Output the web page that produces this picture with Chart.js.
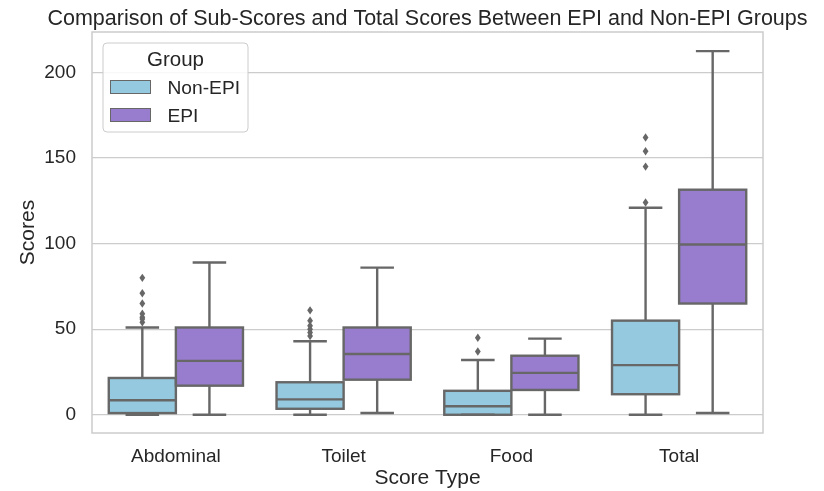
<!DOCTYPE html>
<html>
<head>
<meta charset="utf-8">
<script src="https://cdn.jsdelivr.net/npm/chart.js@4.4.1/dist/chart.umd.min.js"></script>
<style>
  html, body { margin: 0; padding: 0; background: #ffffff; }
  canvas { display: block; }
</style>
</head>
<body>
<canvas id="chart" width="824" height="491"></canvas>
<script>
// Score categories and tick values
const categories = ['Abdominal', 'Toilet', 'Food', 'Total'];
const yTicks = [0, 50, 100, 150, 200];
const chartTitle = 'Comparison of Sub-Scores and Total Scores Between EPI and Non-EPI Groups';

// Non-EPI box statistics
const nonEpiLow = [0, 0, 0, 0];
const nonEpiQ1 = [1, 3.5, 0, 12];
const nonEpiMedian = [8.5, 9, 5, 29];
const nonEpiQ3 = [21.5, 19, 14, 55];
const nonEpiHigh = [51, 43, 32, 121];
const nonEpiOutliers = [
  [54, 56, 57, 59, 65, 71, 80],
  [46, 48, 50, 52, 55, 61],
  [37, 45],
  [124, 145, 154, 162]
];

// EPI box statistics
const epiLow = [0, 1, 0, 1];
const epiQ1 = [17, 20.5, 14.5, 65];
const epiMedian = [31.5, 35.5, 24.5, 99.5];
const epiQ3 = [51, 51, 34.5, 131.5];
const epiHigh = [89, 86, 44.5, 212.5];
const epiOutliers = [[], [], [], []];

const FONT = "'Liberation Sans', Arial, Helvetica, sans-serif";
const TEXT = '#262626';
const LINE = '#676767';
const GRID = '#cccccc';

const groups = [
  { label: 'Non-EPI', color: '#94c9df', low: nonEpiLow, q1: nonEpiQ1, med: nonEpiMedian, q3: nonEpiQ3, high: nonEpiHigh, out: nonEpiOutliers },
  { label: 'EPI', color: '#987dce', low: epiLow, q1: epiQ1, med: epiMedian, q3: epiQ3, high: epiHigh, out: epiOutliers }
];

// Whiskers, medians, outliers, frame, title and legend on top of the box bars
const boxPlotPlugin = {
  id: 'boxPlot',
  afterDatasetsDraw(chart) {
    const ctx = chart.ctx;
    const y = chart.scales.y;
    const area = chart.chartArea;
    ctx.save();
    // frame around the plotting area
    ctx.strokeStyle = GRID;
    ctx.lineWidth = 1.5;
    ctx.strokeRect(area.left, area.top, area.right - area.left, area.bottom - area.top);

    ctx.strokeStyle = LINE;
    ctx.lineWidth = 2.4;
    ctx.lineCap = 'butt';
    groups.forEach((g, di) => {
      const meta = chart.getDatasetMeta(di);
      meta.data.forEach((bar, i) => {
        const x = bar.x;
        const w = bar.width;
        const left = x - w / 2;
        const top = y.getPixelForValue(g.q3[i]);
        const bottom = y.getPixelForValue(g.q1[i]);
        const capHalf = w / 4;
        // box outline
        ctx.strokeRect(left, top, w, bottom - top);
        // median
        const my = y.getPixelForValue(g.med[i]);
        ctx.beginPath();
        ctx.moveTo(left, my); ctx.lineTo(left + w, my);
        ctx.stroke();
        // whiskers and caps
        const hy = y.getPixelForValue(g.high[i]);
        const ly = y.getPixelForValue(g.low[i]);
        ctx.beginPath();
        ctx.moveTo(x, top); ctx.lineTo(x, hy);
        ctx.moveTo(x - capHalf, hy); ctx.lineTo(x + capHalf, hy);
        ctx.moveTo(x, bottom); ctx.lineTo(x, ly);
        ctx.moveTo(x - capHalf, ly); ctx.lineTo(x + capHalf, ly);
        ctx.stroke();
        // outliers as diamonds
        ctx.fillStyle = LINE;
        g.out[i].forEach(v => {
          const oy = y.getPixelForValue(v);
          ctx.beginPath();
          ctx.moveTo(x, oy - 4.2);
          ctx.lineTo(x + 2.9, oy);
          ctx.lineTo(x, oy + 4.2);
          ctx.lineTo(x - 2.9, oy);
          ctx.closePath();
          ctx.fill();
        });
      });
    });

    // title centred over the plotting area
    ctx.fillStyle = TEXT;
    ctx.textAlign = 'center';
    ctx.textBaseline = 'alphabetic';
    ctx.font = '21.5px ' + FONT;
    ctx.fillText(chartTitle, (area.left + area.right) / 2, area.top - 7);

    // legend with title
    const lx = area.left + 11, ly = area.top + 11, lw = 145, lh = 89;
    ctx.fillStyle = 'rgba(255,255,255,0.85)';
    ctx.strokeStyle = GRID;
    ctx.lineWidth = 1;
    ctx.beginPath();
    ctx.roundRect(lx, ly, lw, lh, 4);
    ctx.fill();
    ctx.stroke();
    ctx.fillStyle = TEXT;
    ctx.font = '20.5px ' + FONT;
    ctx.fillText('Group', lx + lw / 2, ly + 22.5);
    ctx.textAlign = 'left';
    ctx.font = '19.2px ' + FONT;
    groups.forEach((g, k) => {
      const py = ly + 37.5 + k * 28;
      ctx.fillStyle = g.color;
      ctx.fillRect(lx + 7.5, py, 40, 13);
      ctx.strokeStyle = LINE;
      ctx.lineWidth = 1;
      ctx.strokeRect(lx + 7.5, py, 40, 13);
      ctx.fillStyle = TEXT;
      ctx.fillText(g.label, lx + 64.5, py + 13.5);
    });
    ctx.restore();
  }
};

new Chart(document.getElementById('chart'), {
  type: 'bar',
  data: {
    labels: categories,
    datasets: groups.map(g => ({
      label: g.label,
      data: categories.map((_, i) => [g.q1[i], g.q3[i]]),
      backgroundColor: g.color,
      borderWidth: 0,
      categoryPercentage: 0.8,
      barPercentage: 1.0
    }))
  },
  options: {
    responsive: false,
    animation: false,
    devicePixelRatio: 1,
    layout: { padding: { left: 0, right: 61, top: 32, bottom: 0 } },
    plugins: {
      legend: { display: false },
      tooltip: { enabled: false },
      title: { display: false }
    },
    scales: {
      x: {
        grid: { display: false, drawTicks: false },
        border: { display: false },
        ticks: { color: TEXT, font: { family: FONT, size: 19 }, padding: 12 },
        title: { display: true, text: 'Score Type', color: TEXT, font: { family: FONT, size: 21 }, padding: 0 },
        afterFit(s) { s.height = 58; }
      },
      y: {
        min: -10.65,
        max: 223.65,
        afterBuildTicks(s) { s.ticks = yTicks.map(v => ({ value: v })); },
        grid: { color: GRID, lineWidth: 1.25, drawTicks: false },
        border: { display: false },
        ticks: { color: TEXT, font: { family: FONT, size: 19 }, padding: 16 },
        title: { display: true, text: 'Scores', color: TEXT, font: { family: FONT, size: 21 }, padding: { top: 16, bottom: 0 } },
        afterFit(s) { s.width = 92; }
      }
    }
  },
  plugins: [boxPlotPlugin]
});
</script>
</body>
</html>
